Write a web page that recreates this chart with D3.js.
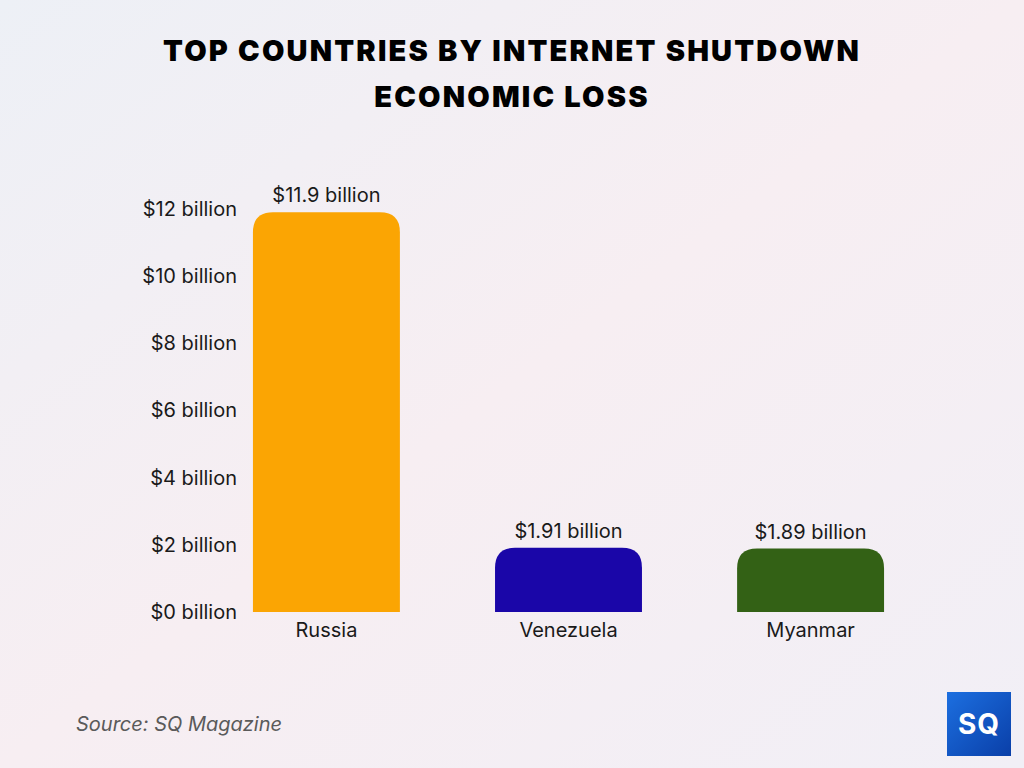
<!DOCTYPE html>
<html>
<head>
<meta charset="utf-8">
<style>
  body { margin: 0; background: #f3f0f5; }
  svg text { font-family: Inter, "Noto Sans", sans-serif; }
</style>
<script src="https://d3js.org/d3.v7.min.js"></script>
</head>
<body>
<script>
// data
const countries = ["Russia", "Venezuela", "Myanmar"];
const losses = [11.9, 1.91, 1.89];
const valueLabels = ["$11.9 billion", "$1.91 billion", "$1.89 billion"];
const barColors = ["#fba503", "#1a06a8", "#336115"];
const yTicks = [0, 2, 4, 6, 8, 10, 12];

const w = 1024, h = 768;
const svg = d3.select("body").append("svg").attr("width", w).attr("height", h);

const defs = svg.append("defs");
const bg = defs.append("linearGradient").attr("id", "bg")
  .attr("x1", "0").attr("y1", "0").attr("x2", "1").attr("y2", "1");
bg.append("stop").attr("offset", "0").attr("stop-color", "#edf0f6");
bg.append("stop").attr("offset", "0.5").attr("stop-color", "#f7eef2");
bg.append("stop").attr("offset", "1").attr("stop-color", "#f1eff6");
svg.append("rect").attr("width", w).attr("height", h).attr("fill", "url(#bg)");

// title
svg.append("text").attr("x", w / 2).attr("y", 61).attr("text-anchor", "middle")
  .attr("font-size", 29).attr("font-weight", 900).attr("fill", "#000")
  .attr("letter-spacing", 2.2)
  .text("TOP COUNTRIES BY INTERNET SHUTDOWN");
svg.append("text").attr("x", w / 2).attr("y", 107).attr("text-anchor", "middle")
  .attr("font-size", 29).attr("font-weight", 900).attr("fill", "#000")
  .attr("letter-spacing", 2.2)
  .text("ECONOMIC LOSS");

const x = d3.scaleBand().domain(countries).range([205.5, 931.5])
  .paddingInner(0.393).paddingOuter(0.196);
const y = d3.scaleLinear().domain([0, 12]).range([612, 209]);

// y axis labels
const yAxis = d3.axisLeft(y).tickValues(yTicks).tickSize(0).tickPadding(0)
  .tickFormat(d => "$" + d + " billion");
const gy = svg.append("g").attr("transform", "translate(237,0)").call(yAxis);
gy.select(".domain").remove();
gy.selectAll("text").attr("font-size", 20).attr("fill", "#1a1a1a")
  .style("font-family", "Inter, sans-serif");

// bars with rounded top corners
const r = 20;
function barPath(d, i) {
  const x0 = x(countries[i]), x1 = x0 + x.bandwidth();
  const top = y(d), bot = y(0);
  return `M${x0},${bot}V${top + r}Q${x0},${top} ${x0 + r},${top}H${x1 - r}Q${x1},${top} ${x1},${top + r}V${bot}Z`;
}
svg.selectAll("path.bar").data(losses).enter().append("path")
  .attr("class", "bar").attr("d", barPath).attr("fill", (d, i) => barColors[i]);

// value labels
svg.selectAll("text.val").data(losses).enter().append("text")
  .attr("class", "val")
  .attr("x", (d, i) => x(countries[i]) + x.bandwidth() / 2)
  .attr("y", d => y(d) - 10)
  .attr("text-anchor", "middle").attr("font-size", 20).attr("fill", "#1a1a1a")
  .text((d, i) => valueLabels[i]);

// category labels
const xAxis = d3.axisBottom(x).tickSize(0).tickPadding(0);
const gx = svg.append("g").attr("transform", "translate(0,619)").call(xAxis);
gx.select(".domain").remove();
gx.selectAll("text").attr("font-size", 20).attr("fill", "#1a1a1a")
  .attr("dy", "0.9em").style("font-family", "Inter, sans-serif");

// source
svg.append("text").attr("x", 76).attr("y", 731).attr("font-size", 20)
  .attr("font-style", "italic").attr("fill", "#5a5a5a").text("Source: SQ Magazine");

// logo
const logo = svg.append("g").attr("transform", "translate(947,692)");
const lg = defs.append("linearGradient").attr("id", "lg")
  .attr("x1", "0").attr("y1", "0").attr("x2", "1").attr("y2", "1");
lg.append("stop").attr("offset", "0").attr("stop-color", "#1c6fe0");
lg.append("stop").attr("offset", "1").attr("stop-color", "#0a3fa8");
logo.append("rect").attr("width", 64).attr("height", 64).attr("fill", "url(#lg)");
logo.append("text").attr("x", 32).attr("y", 42).attr("text-anchor", "middle")
  .attr("font-size", 28).attr("font-weight", 700).attr("fill", "#fff")
  .attr("letter-spacing", 1).text("SQ");
</script>
</body>
</html>
